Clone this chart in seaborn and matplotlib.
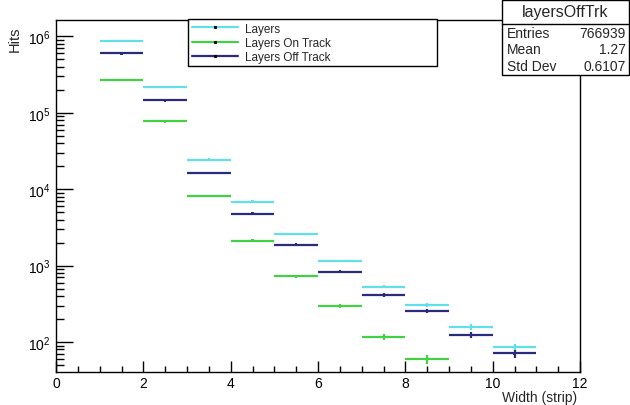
import numpy as np
import pandas as pd
import matplotlib
matplotlib.use("Agg")
import matplotlib.pyplot as plt
import seaborn as sns
from matplotlib.lines import Line2D
from matplotlib.patches import Rectangle

# ---- data ----
bin_low = [1, 2, 3, 4, 5, 6, 7, 8, 9, 10]
layers = [870000, 219000, 24400, 6900, 2570, 1140, 527, 309, 158, 86]
layers_on = [270000, 77000, 8200, 2120, 724, 294, 116, 60, None, None]
layers_off = [600000, 145000, 16400, 4800, 1880, 835, 414, 253, 125, 71]
series_names = ["Layers", "Layers On Track", "Layers Off Track"]
series_colors = ["#62e0e8", "#44d044", "#2b2b7d"]
stats_title = "layersOffTrk"
stats_rows = [("Entries", "766939"), ("Mean", "1.27"), ("Std Dev", "0.6107")]

rows = []
for name, vals in zip(series_names, [layers, layers_on, layers_off]):
    for lo, v in zip(bin_low, vals):
        if v is not None:
            rows.append({"series": name, "x": lo + 0.5, "hits": v})
df = pd.DataFrame(rows)

sns.set_style("ticks")
plt.rcParams["font.family"] = ["Liberation Sans", "DejaVu Sans"]
plt.rcParams["mathtext.fontset"] = "custom"
plt.rcParams["mathtext.rm"] = "Liberation Sans"

W, H = 630, 406
fig = plt.figure(figsize=(6.3, 4.06), dpi=100)
ax = fig.add_axes([56 / W, (H - 373) / H, (580 - 56) / W, (373 - 21) / H])

for name, col in zip(series_names, series_colors):
    d = df[df["series"] == name]
    ax.errorbar(d["x"], d["hits"], xerr=0.5, yerr=np.sqrt(d["hits"]),
                fmt="none", ecolor=col, elinewidth=1.6, capsize=0, zorder=3)
sns.scatterplot(data=df, x="x", y="hits", hue="series", palette=series_colors,
                hue_order=series_names, s=3, marker="s", linewidth=0,
                legend=False, ax=ax, zorder=4)

ax.set_yscale("log")
ax.set_xlim(0, 12)
ax.set_ylim(40.5, 1.64e6)
ax.set_xticks(np.arange(0, 13, 2))
ax.set_xticks(np.arange(0, 12.01, 0.5), minor=True)
ax.tick_params(axis="both", which="both", direction="in", labelsize=10,
               top=False, right=False, colors="black")
ax.tick_params(axis="x", which="major", length=8, width=1, pad=3)
ax.tick_params(axis="x", which="minor", length=4, width=1)
ax.tick_params(axis="y", which="major", length=12, width=1, pad=4)
ax.tick_params(axis="y", which="minor", length=6, width=1)
ax.set_xlabel("")
ax.set_ylabel("")
for sp in ax.spines.values():
    sp.set_color("black")
    sp.set_linewidth(1)

fig.text(577 / W, 1 - 398 / H, "Width (strip)", ha="right", va="center", fontsize=10)
fig.text(15 / W, 1 - 27 / H, "Hits", ha="center", va="top", rotation=90, fontsize=10.5)

# legend
handles = [Line2D([0], [0], color=c, lw=1.6, marker="s", markersize=1.2,
                  markerfacecolor="black", markeredgecolor="black") for c in series_colors]
leg = fig.legend(handles, series_names, loc="upper left",
                 bbox_to_anchor=(188 / W, 1 - 66 / H, 249 / W, 46 / H), mode="expand",
                 fontsize=8.5, frameon=True, fancybox=False, edgecolor="black",
                 framealpha=1, handlelength=3.9, handletextpad=0.6,
                 labelspacing=0.18, borderpad=0.3, borderaxespad=0)
leg.get_frame().set_linewidth(1)
leg.set_zorder(10)

# stats box
x0, x1 = 502 / W, 629 / W
y0, y1 = 1 - 76 / H, 1 - 1 / H
fig.patches.append(Rectangle((x0, y0), x1 - x0, y1 - y0, transform=fig.transFigure,
                             facecolor="white", edgecolor="black", lw=1, zorder=20))
fig.add_artist(Line2D([x0, x1], [1 - 25 / H] * 2, transform=fig.transFigure,
                      color="black", lw=1, zorder=21))
fig.text((x0 + x1) / 2, 1 - 12.5 / H, stats_title, ha="center", va="center",
         fontsize=11.5, zorder=22)
for i, (lab, val) in enumerate(stats_rows):
    yy = 1 - (34 + 16.3 * i) / H
    fig.text(507 / W, yy, lab, ha="left", va="center", fontsize=10, zorder=22)
    fig.text(626 / W, yy, val, ha="right", va="center", fontsize=10, zorder=22)

fig.savefig("out.png", dpi=100, facecolor="white")
